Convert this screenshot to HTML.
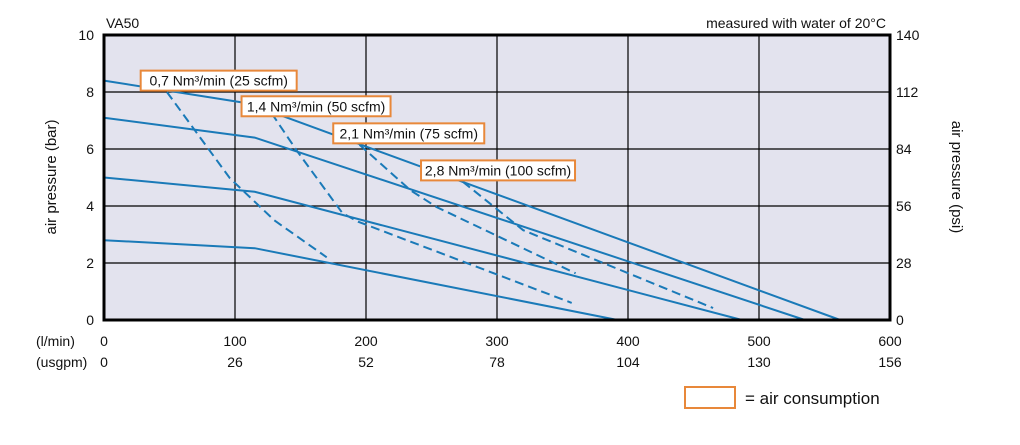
<!DOCTYPE html>
<html><head><meta charset="utf-8"><style>
body{margin:0;background:#fff;font-family:"Liberation Sans",sans-serif;}
svg text{font-family:"Liberation Sans",sans-serif;fill:#111;}
</style></head><body>
<svg id="c" width="1020" height="440" xmlns="http://www.w3.org/2000/svg">
<rect x="104" y="35" width="786" height="285" fill="#e3e3ee"/>
<g id="grid"></g>
<g id="series"></g>
<rect x="104" y="35" width="786" height="285" fill="none" stroke="#000" stroke-width="3"/>
<g id="labels"></g>
<text x="106" y="28" font-size="14">VA50</text>
<text x="886" y="28" font-size="14" text-anchor="end">measured with water of 20°C</text>
<text transform="translate(56,177) rotate(-90)" font-size="15" text-anchor="middle">air pressure (bar)</text>
<text transform="translate(952,177) rotate(90)" font-size="15" text-anchor="middle">air pressure (psi)</text>
<text x="36" y="346" font-size="14">(l/min)</text>
<text x="36" y="367" font-size="14">(usgpm)</text>
<rect x="685" y="387" width="50" height="21" fill="none" stroke="#e8883a" stroke-width="2"/>
<text x="745" y="404" font-size="17">= air consumption</text>
</svg>
<script>
const xTicks=[0,100,200,300,400,500,600];
const xTicks2=["0","26","52","78","104","130","156"];
const yTicks=[0,2,4,6,8,10];
const yTicks2=["0","28","56","84","112","140"];
const curve1=[[0,8.4],[110,7.6],[562,0]];
const curve2=[[0,7.1],[115,6.4],[535,0]];
const curve3=[[0,5.0],[115,4.5],[487,0]];
const curve4=[[0,2.8],[115,2.52],[392,0]];
const air07=[[48,8.0],[75,6.3],[96,4.98],[130,3.5],[170,2.2]];
const air14=[[128,7.25],[147,5.95],[182,3.75],[194,3.45],[357,0.6]];
const air21=[[195,6.15],[234,4.55],[254,3.96],[360,1.64]];
const air28=[[274,4.85],[320,3.15],[465,0.42]];
const boxLabels=["0,7 Nm³/min (25 scfm)","1,4 Nm³/min (50 scfm)","2,1 Nm³/min (75 scfm)","2,8 Nm³/min (100 scfm)"];
const boxAnchors=[[28,8.75],[105,7.85],[175,6.9],[242,5.6]];
const boxWidths=[156,149,151,154];
const X=q=>104+q*1.31, Y=p=>320-p*28.5;
const NS="http://www.w3.org/2000/svg";
function mk(t,a,parent){const e=document.createElementNS(NS,t);for(const k in a)e.setAttribute(k,a[k]);document.getElementById(parent).appendChild(e);return e;}
xTicks.forEach((v,i)=>{
 if(i>0&&i<xTicks.length-1){const l=mk('line',{x1:X(v),x2:X(v),y1:35,y2:320,stroke:'#000','stroke-width':1.2},'grid');
 
 }
 const t=mk('text',{x:X(v),y:346,'font-size':14,'text-anchor':'middle'},'labels');t.textContent=v;
 
 
 const t2=mk('text',{x:X(v),y:367,'font-size':14,'text-anchor':'middle'},'labels');t2.textContent=xTicks2[i];
 
 
});
yTicks.forEach((v,i)=>{
 if(i>0&&i<yTicks.length-1){const l=mk('line',{x1:104,x2:890,y1:Y(v),y2:Y(v),stroke:'#000','stroke-width':1.2},'grid');
 
 }
 const t=mk('text',{x:94,y:Y(v)+5,'font-size':14,'text-anchor':'end'},'labels');t.textContent=v;
 
 
 const t2=mk('text',{x:896,y:Y(v)+5,'font-size':14},'labels');t2.textContent=yTicks2[i];
 
 
});
function line(pts,dash,name){const d=pts.map((p,i)=>(i?'L':'M')+X(p[0]).toFixed(1)+' '+Y(p[1]).toFixed(1)).join(' ');
 const e=mk('path',{d:d,fill:'none',stroke:'#1a7ab8','stroke-width':2,'stroke-dasharray':dash?'9 5':'none'},'series');
 
 }
line(curve1,false,'pressure-curve-8bar');
line(curve2,false,'pressure-curve-7bar');
line(curve3,false,'pressure-curve-5bar');
line(curve4,false,'pressure-curve-3bar');
line(air07,true,'air-consumption-0-7');
line(air14,true,'air-consumption-1-4');
line(air21,true,'air-consumption-2-1');
line(air28,true,'air-consumption-2-8');
boxLabels.forEach((s,i)=>{
 const x=X(boxAnchors[i][0]),y=Y(boxAnchors[i][1]);
 const r=mk('rect',{x:x,y:y,width:boxWidths[i],height:20,fill:'#fff',stroke:'#e8883a','stroke-width':2},'labels');
 
 
 const t=mk('text',{x:x+boxWidths[i]/2,y:y+15,'font-size':14,'text-anchor':'middle'},'labels');t.textContent=s;
 
 
});
</script>
</body></html>
